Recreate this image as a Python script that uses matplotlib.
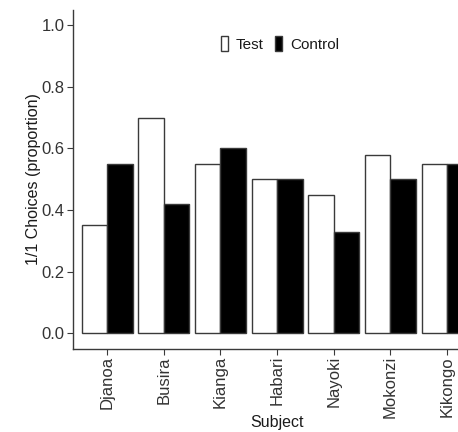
import numpy as np
import matplotlib.pyplot as plt
from matplotlib.patches import Patch

plt.rcParams['font.family'] = ['Liberation Sans', 'DejaVu Sans']

subjects = ["Djanoa", "Busira", "Kianga", "Habari", "Nayoki", "Mokonzi", "Kikongo"]
test_vals = [0.35, 0.70, 0.55, 0.50, 0.45, 0.58, 0.55]
control_vals = [0.55, 0.42, 0.60, 0.50, 0.33, 0.50, 0.55]
y_ticks = [0.0, 0.2, 0.4, 0.6, 0.8, 1.0]

fig = plt.figure(figsize=(4.58, 4.32), dpi=100)
# plot panel runs past the right edge, as in the cropped original
ax = fig.add_axes([0.1594, 0.192, 0.891, 0.785])

x = np.arange(len(subjects))
w = 0.45
edge = "#3a3a3a"
ax.bar(x - w / 2, test_vals, width=w, color="white", edgecolor=edge, linewidth=1.0)
ax.bar(x + w / 2, control_vals, width=w, color="black", edgecolor=edge, linewidth=1.0)

ax.set_xlim(-0.6, len(subjects) - 0.4)
ax.set_ylim(-0.052, 1.05)
ax.set_yticks(y_ticks)
ax.set_yticklabels([f"{v:.1f}" for v in y_ticks])
ax.set_xticks(x)
ax.set_xticklabels(subjects, rotation=90)

for s in ["top", "right"]:
    ax.spines[s].set_visible(False)
for s in ["left", "bottom"]:
    ax.spines[s].set_color(edge)
    ax.spines[s].set_linewidth(1.0)
ax.tick_params(axis="both", colors=edge, labelcolor="#333333", labelsize=12,
               length=4, width=0.8, pad=2)
ax.tick_params(axis="x", pad=1)

ax.set_ylabel("1/1 Choices (proportion)", fontsize=11.5, color="#1a1a1a")
ax.set_xlabel("Subject", fontsize=11.5, color="#1a1a1a")
ax.yaxis.set_label_coords(-0.078, 0.5)
ax.xaxis.set_label_coords(0.5, -0.195)

handles = [Patch(facecolor="white", edgecolor=edge, linewidth=1.0, label="Test"),
           Patch(facecolor="black", edgecolor=edge, linewidth=1.0, label="Control")]
fig.legend(handles=handles, loc="center", bbox_to_anchor=(0.611, 0.898), ncol=2,
           frameon=False, fontsize=11, handlelength=0.5, handleheight=1.1,
           handletextpad=0.5, columnspacing=0.7, labelcolor="#1a1a1a")

fig.savefig("out.png", dpi=100, facecolor="white")
